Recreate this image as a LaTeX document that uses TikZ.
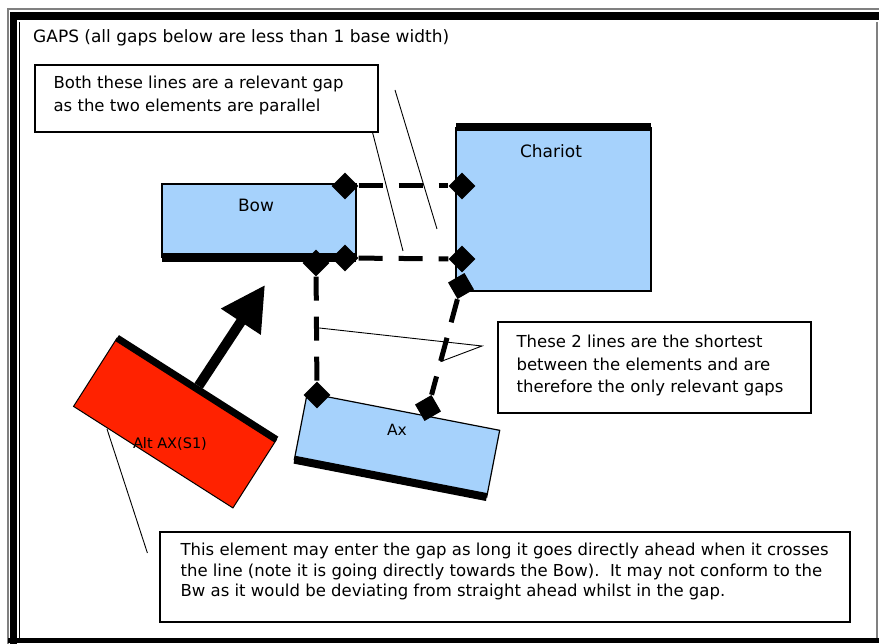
\documentclass[tikz,border=0pt]{standalone}
\usepackage{fontspec}
\setmainfont{DejaVu Sans}
\usetikzlibrary{shapes.geometric,arrows.meta,calc}
\definecolor{elemblue}{RGB}{166,210,252}
\definecolor{elemred}{RGB}{255,34,0}
\begin{document}
\begin{tikzpicture}[x=1pt,y=-1pt,
  note/.style={draw, line width=1.2pt, fill=white, inner sep=0pt},
  notetext/.style={anchor=north west, inner sep=0pt, align=left, font=\fontsize{16.5}{22.5}\selectfont},
  elemlabel/.style={inner sep=0pt, font=\fontsize{17}{17}\selectfont},
  gapline/.style={line width=5pt, dash pattern=on 24pt off 16pt},
  leader/.style={line width=0.9pt},
  marker/.style={diamond, fill=black, inner sep=0pt, minimum size=27pt}]
\useasboundingbox (0,0) rectangle (879,644);
\fill[white] (0,0) rectangle (879,644);
\draw[gray, line width=1.5pt] (8,644) -- (8,9) -- (879,9);
\fill (10,12) rectangle (879,20);
\fill (10,12) rectangle (17,644);
\draw[line width=1pt] (19,640) -- (19,22);
\draw[gray, line width=1.5pt] (877,22) -- (877,640);
\fill (8,638) rectangle (879,643);

\node[anchor=base west, inner sep=0pt, font=\fontsize{17}{20}\selectfont] (title) at (33,43) {GAPS (all gaps below are less than 1 base width)};

\def\Element#1#2#3#4{
\fill[elemblue] (#1,#2) rectangle (#3,#4);
\draw[line width=1.2pt] (#1,#2) rectangle (#3,#4);
}
\Element{162}{184}{356}{257}
\fill (162,253) rectangle (356,262);
\Element{456}{128}{651}{291}
\fill (456,123) rectangle (651,131);
\node[elemlabel] (bowlabel) at (256,205) {Bow};
\node[elemlabel] (chariotlabel) at (551,151) {Chariot};

\begin{scope}[shift={(397,445)}, rotate=-11]
\Element{-98}{-34}{98}{34}
\fill (-98,30) rectangle (98,38);
\end{scope}
\begin{scope}[shift={(175,423)}, rotate=-32.5]
\fill[elemred] (-94.5,-40.5) rectangle (94.5,40.5);
\draw[line width=1pt] (-94.5,-40.5) rectangle (94.5,40.5);
\fill (-94.5,-44) rectangle (94.5,-37);
\coordinate (altfront) at (0,-44);
\end{scope}
\node[elemlabel, font=\fontsize{15.5}{15.5}\selectfont] (axlabel) at (397,430) {Ax};
\node[elemlabel, font=\fontsize{14.5}{14.5}\selectfont] (altlabel) at (170,444) {Alt AX(S1)};

\coordinate (alttip) at (265,285);
\draw[line width=10pt, -{Triangle[length=44pt,width=45pt]}] (altfront) -- (alttip);

\foreach \name/\x/\y/\ang in {bowtop/345/186/0, bowbot/345/258/0, chartop/462/186/0, charbot/462/259/0,
  bowleft/316/263/0, axleft/317/395/0, charlow/461/286/-15, axright/428/408/-15}
  \node[marker, rotate=\ang] (\name) at (\x,\y) {};
\foreach \a/\b in {bowtop/chartop, bowbot/charbot, bowleft/axleft, charlow/axright}
  \draw[gapline] (\a) -- (\b);

\node[note, minimum width=343pt, minimum height=67pt] (bothnote) at (206.5,98.5) {};
\node[notetext] (bothtext) at ([shift={(19,11.5)}]bothnote.north west) {Both these lines are a relevant gap\\as the two elements are parallel};
\coordinate (bothstart) at (395,90);
\coordinate (bothfoot) at (403,251);
\coordinate (bothfoot2) at (437,229);
\draw[leader] ([xshift=-6pt]bothnote.south east) -- (bothfoot);
\draw[leader] (bothstart) -- (bothfoot2);

\node[note, minimum width=313pt, minimum height=91pt] (shortnote) at (654.5,367.5) {};
\node[notetext] (shorttext) at ([shift={(19,13.5)}]shortnote.north west) {These 2 lines are the shortest\\between the elements and are\\therefore the only relevant gaps};
\coordinate (shortapex) at (482,346);
\draw[leader] ($(bowleft)!0.49!(axleft)$) -- (shortapex) -- ($(charlow)!0.62!(axright)$);

\node[note, minimum width=690pt, minimum height=90pt] (enternote) at (505,577) {};
\node[notetext, font=\fontsize{16.5}{20.5}\selectfont] (entertext) at ([shift={(21,11.5)}]enternote.north west) {This element may enter the gap as long it goes directly ahead when it crosses\\the line (note it is going directly towards the Bow).\ \ It may not conform to the\\Bw as it would be deviating from straight ahead whilst in the gap.};
\coordinate (altside) at (107,429);
\draw[leader] (altside) -- ([shift={(-12,-24)}]enternote.west);
\end{tikzpicture}
\end{document}
